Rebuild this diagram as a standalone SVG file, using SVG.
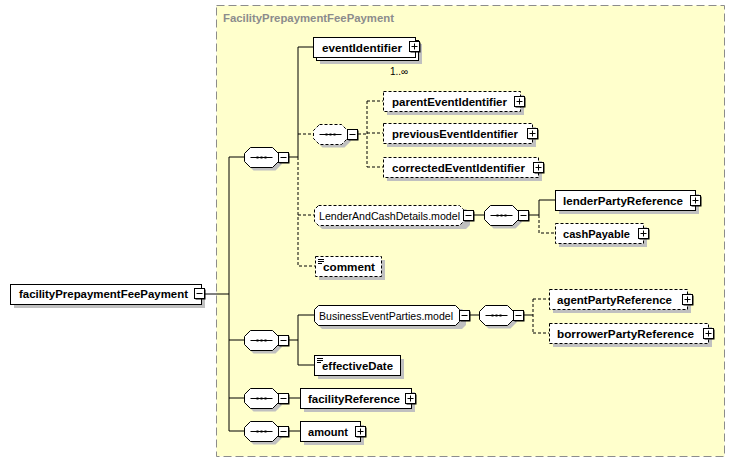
<svg xmlns="http://www.w3.org/2000/svg" xmlns:xlink="http://www.w3.org/1999/xlink" width="735" height="463" viewBox="0 0 735 463">
<style>
text{font-family:"Liberation Sans",Arial,sans-serif;font-size:11px;fill:#000}
.b{font-weight:bold;font-size:11.5px}
.t{font-weight:bold;fill:#8c8c8c;font-size:11.5px}
.box{fill:#fff;stroke:#000;stroke-width:1}
.dbox{fill:#fff;stroke:#000;stroke-width:1;stroke-dasharray:3,2}
.sh{fill:#c0c0c0;stroke:none}
.ln{fill:none;stroke:#000;stroke-width:1}
.dl{fill:none;stroke:#000;stroke-width:1;stroke-dasharray:3,2}
</style>
<defs>
<g id="minus"><rect x="1" y="1" width="10" height="10" fill="#000"/><rect x="0" y="0" width="10" height="10" fill="#fff" stroke="#000"/><line x1="2" y1="5" x2="8" y2="5" stroke="#000"/></g>
<g id="plus"><rect x="1" y="1" width="10" height="10" fill="#000"/><rect x="0" y="0" width="10" height="10" fill="#fff" stroke="#000"/><line x1="2" y1="5" x2="8" y2="5" stroke="#000"/><line x1="5" y1="2" x2="5" y2="8" stroke="#000"/></g>
<path id="octsh" d="M6,0H28L34,6V14L28,20H6L0,14V6Z"/>
<g id="seqin"><line x1="6" y1="10" x2="28" y2="10" stroke="#000"/><rect x="12" y="9" width="2" height="2" fill="#000"/><rect x="16" y="9" width="2" height="2" fill="#000"/><rect x="20" y="9" width="2" height="2" fill="#000"/></g>
<g id="seq"><use xlink:href="#octsh" x="3" y="3" class="sh"/><use xlink:href="#octsh" class="box"/><use xlink:href="#seqin"/><use xlink:href="#minus" x="34" y="5"/></g>
<g id="seqd"><use xlink:href="#octsh" x="3" y="3" class="sh"/><use xlink:href="#octsh" class="dbox"/><use xlink:href="#seqin"/><use xlink:href="#minus" x="34" y="5"/></g>
<g id="ico"><line x1="0" y1="0" x2="6" y2="0" stroke="#000"/><line x1="0" y1="2" x2="6" y2="2" stroke="#000"/><line x1="0" y1="4" x2="4" y2="4" stroke="#000"/></g>
</defs>

<g id="container">
<rect x="216.5" y="5.5" width="508" height="451" fill="#ffffcc" stroke="#8c8c8c" stroke-dasharray="8,4"/>
<text x="223" y="22" class="t" textLength="171" lengthAdjust="spacingAndGlyphs">FacilityPrepaymentFeePayment</text>
</g>

<g id="connectors">
<path class="ln" d="M205,294H229M229,157V431M229,157H245M229,340H245M229,398H244M229,431H244"/>
<path class="ln" d="M289,157H298M298,157V47H313"/>
<path class="dl" d="M298,157V266H315M298,134H313M298,215H314"/>
<path class="dl" d="M358,134H367M367,101V167M367,101H383M367,133H383M367,167H383"/>
<path class="ln" d="M473,215H484M529,215H539M539,215V200H555"/>
<path class="dl" d="M539,215V233H555"/>
<path class="ln" d="M289,340H298M298,315V365M298,315H314M298,365H314"/>
<path class="ln" d="M469,315H479M524,315H533"/>
<path class="dl" d="M533,299V333M533,299H549M533,333H549"/>
<path class="ln" d="M289,398H300M289,431H300"/>
</g>

<g id="root">
<rect x="14" y="288" width="191" height="20" class="sh"/>
<rect x="10.5" y="284.5" width="191" height="20" class="box"/>
<text x="19" y="298" class="b" textLength="169" lengthAdjust="spacingAndGlyphs">facilityPrepaymentFeePayment</text>
<use xlink:href="#minus" x="194.5" y="288.5"/>
</g>

<g id="seq1"><use xlink:href="#seq" x="244.5" y="147.5"/></g>

<g id="eventIdentifier">
<rect x="320" y="44" width="102" height="20" class="sh"/>
<rect x="316.5" y="40.5" width="102" height="20" class="box"/>
<rect x="313.5" y="37.5" width="102" height="20" class="box"/>
<text x="322" y="52" class="b" textLength="80" lengthAdjust="spacingAndGlyphs">eventIdentifier</text>
<use xlink:href="#plus" x="409.5" y="41.5"/>
<text x="390" y="75" style="font-size:10px">1..∞</text>
</g>

<g id="seqOpt"><use xlink:href="#seqd" x="313.5" y="124.5"/></g>

<g id="parentEventIdentifier">
<rect x="387" y="95" width="137" height="20" class="sh"/>
<rect x="383.5" y="91.5" width="137" height="20" class="dbox"/>
<text x="392" y="106" class="b" textLength="115" lengthAdjust="spacingAndGlyphs">parentEventIdentifier</text>
<use xlink:href="#plus" x="514.5" y="96.5"/>
</g>
<g id="previousEventIdentifier">
<rect x="387" y="127" width="149" height="20" class="sh"/>
<rect x="383.5" y="123.5" width="149" height="20" class="dbox"/>
<text x="392" y="138" class="b" textLength="126" lengthAdjust="spacingAndGlyphs">previousEventIdentifier</text>
<use xlink:href="#plus" x="527.5" y="128.5"/>
</g>
<g id="correctedEventIdentifier">
<rect x="387" y="161" width="155" height="20" class="sh"/>
<rect x="383.5" y="157.5" width="155" height="20" class="dbox"/>
<text x="392" y="172" class="b" textLength="133" lengthAdjust="spacingAndGlyphs">correctedEventIdentifier</text>
<use xlink:href="#plus" x="533.5" y="162.5"/>
</g>

<g id="LenderAndCashDetails.model">
<path d="M322,209H466L470,213V225L466,229H322L318,225V213Z" class="sh"/>
<path d="M318.5,205.5H459.5L463.5,209.5V221.5L459.5,225.5H318.5L314.5,221.5V209.5Z" class="dbox"/>
<text x="319" y="219.5" textLength="141" lengthAdjust="spacingAndGlyphs">LenderAndCashDetails.model</text>
<use xlink:href="#minus" x="463.5" y="210.5"/>
</g>
<g id="seqLender"><use xlink:href="#seq" x="484.5" y="205.5"/></g>

<g id="lenderPartyReference">
<rect x="559" y="194" width="140" height="20" class="sh"/>
<rect x="555.5" y="190.5" width="140" height="20" class="box"/>
<text x="563" y="205" class="b" textLength="120" lengthAdjust="spacingAndGlyphs">lenderPartyReference</text>
<use xlink:href="#plus" x="690.5" y="195.5"/>
</g>
<g id="cashPayable">
<rect x="559" y="227" width="88" height="20" class="sh"/>
<rect x="555.5" y="223.5" width="88" height="20" class="dbox"/>
<text x="563" y="238" class="b" textLength="67" lengthAdjust="spacingAndGlyphs">cashPayable</text>
<use xlink:href="#plus" x="638.5" y="228.5"/>
</g>

<g id="comment">
<rect x="319" y="260" width="66" height="20" class="sh"/>
<rect x="315.5" y="256.5" width="66" height="20" class="dbox"/>
<use xlink:href="#ico" x="318" y="259.5"/>
<text x="323" y="271" class="b" textLength="52" lengthAdjust="spacingAndGlyphs">comment</text>
</g>

<g id="seq2"><use xlink:href="#seq" x="244.5" y="330.5"/></g>

<g id="BusinessEventParties.model">
<path d="M322,309H462L466,313V325L462,329H322L318,325V313Z" class="sh"/>
<path d="M318.5,305.5H455.5L459.5,309.5V321.5L455.5,325.5H318.5L314.5,321.5V309.5Z" class="box"/>
<text x="319" y="319.5" textLength="134" lengthAdjust="spacingAndGlyphs">BusinessEventParties.model</text>
<use xlink:href="#minus" x="459.5" y="310.5"/>
</g>
<g id="seqParties"><use xlink:href="#seq" x="479.5" y="305.5"/></g>

<g id="agentPartyReference">
<rect x="553" y="293" width="138" height="20" class="sh"/>
<rect x="549.5" y="289.5" width="138" height="20" class="dbox"/>
<text x="557" y="304" class="b" textLength="115" lengthAdjust="spacingAndGlyphs">agentPartyReference</text>
<use xlink:href="#plus" x="682.5" y="294.5"/>
</g>
<g id="borrowerPartyReference">
<rect x="553" y="327" width="159" height="20" class="sh"/>
<rect x="549.5" y="323.5" width="159" height="20" class="dbox"/>
<text x="557" y="338" class="b" textLength="137" lengthAdjust="spacingAndGlyphs">borrowerPartyReference</text>
<use xlink:href="#plus" x="703.5" y="328.5"/>
</g>

<g id="effectiveDate">
<rect x="318" y="359" width="86" height="20" class="sh"/>
<rect x="314.5" y="355.5" width="86" height="20" class="box"/>
<use xlink:href="#ico" x="317" y="358.5"/>
<text x="322" y="370" class="b" textLength="71" lengthAdjust="spacingAndGlyphs">effectiveDate</text>
</g>

<g id="seq3"><use xlink:href="#seq" x="244.5" y="388.5"/></g>
<g id="facilityReference">
<rect x="304" y="392" width="111" height="20" class="sh"/>
<rect x="300.5" y="388.5" width="111" height="20" class="box"/>
<text x="308" y="403" class="b" textLength="92" lengthAdjust="spacingAndGlyphs">facilityReference</text>
<use xlink:href="#plus" x="405.5" y="393.5"/>
</g>

<g id="seq4"><use xlink:href="#seq" x="244.5" y="421.5"/></g>
<g id="amount">
<rect x="304" y="425" width="60" height="20" class="sh"/>
<rect x="300.5" y="421.5" width="60" height="20" class="box"/>
<text x="308" y="436" class="b" textLength="40" lengthAdjust="spacingAndGlyphs">amount</text>
<use xlink:href="#plus" x="355.5" y="426.5"/>
</g>
</svg>
